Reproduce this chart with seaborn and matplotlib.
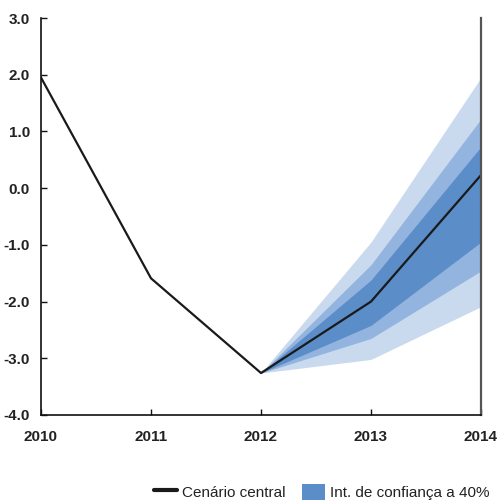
import matplotlib
matplotlib.use("Agg")
import matplotlib.pyplot as plt
from matplotlib.lines import Line2D
from matplotlib.patches import Patch
import seaborn as sns
import pandas as pd

# Central scenario
years = [2010, 2011, 2012, 2013, 2014]
central = [1.95, -1.59, -3.26, -2.0, 0.23]

# Fan chart bands (projection period)
fan_years = [2012, 2013, 2014]
upper_outer = [-3.26, -0.95, 1.95]
upper_mid = [-3.26, -1.35, 1.22]
upper_inner = [-3.26, -1.62, 0.73]
lower_inner = [-3.26, -2.42, -0.95]
lower_mid = [-3.26, -2.65, -1.46]
lower_outer = [-3.26, -3.02, -2.09]

y_ticks = [3.0, 2.0, 1.0, 0.0, -1.0, -2.0, -3.0, -4.0]
x_ticks = [2010, 2011, 2012, 2013, 2014]

legend_labels = ["Cenário central", "Int. de confiança a 40%"]

c_outer = "#c9daee"
c_mid = "#93b4de"
c_inner = "#5b8dc9"

sns.set_style("white")
plt.rcParams["font.family"] = ["Liberation Sans", "DejaVu Sans"]

fig = plt.figure(figsize=(5.0, 5.01), dpi=100)
ax = fig.add_axes([41 / 500, 1 - 415 / 501, 440 / 500, 397 / 501])

df = pd.DataFrame({"ano": years, "valor": central})

ax.fill_between(fan_years, lower_outer, upper_outer, color=c_outer, lw=0)
ax.fill_between(fan_years, lower_mid, upper_mid, color=c_mid, lw=0)
ax.fill_between(fan_years, lower_inner, upper_inner, color=c_inner, lw=0)
sns.lineplot(data=df, x="ano", y="valor", ax=ax, color="#1a1a1a", lw=1.6)

ax.set_xlim(2010, 2014)
ax.set_ylim(-4.0, 3.0)
ax.set_xticks(x_ticks)
ax.set_xticklabels([str(x) for x in x_ticks])
ax.set_yticks(y_ticks)
ax.set_yticklabels([f"{v:.1f}" for v in y_ticks])
ax.set_xlabel("")
ax.set_ylabel("")

ax.tick_params(axis="both", direction="in", length=4, width=1, color="#111111",
               labelsize=11, labelcolor="#222222")
ax.tick_params(axis="x", pad=11, bottom=True)
ax.tick_params(axis="y", pad=8, left=True)
for lab in ax.get_xticklabels() + ax.get_yticklabels():
    lab.set_fontweight("bold")

ax.spines["top"].set_visible(False)
for s in ["left", "bottom"]:
    ax.spines[s].set_color("#111111")
    ax.spines[s].set_linewidth(1.2)
ax.spines["right"].set_color("#555555")
ax.spines["right"].set_linewidth(1.6)

handles = [
    Line2D([0], [0], color="#1a1a1a", lw=3),
    Patch(facecolor=c_inner, edgecolor="none"),
]
fig.legend(handles, legend_labels, loc="center left",
           bbox_to_anchor=(148 / 500, 1 - 492 / 501), ncol=2, frameon=False,
           fontsize=11, handlelength=1.5, handleheight=1.3, handletextpad=0.33,
           columnspacing=1.05, borderaxespad=0, labelcolor="#222222")

fig.savefig("out.png", dpi=100)
